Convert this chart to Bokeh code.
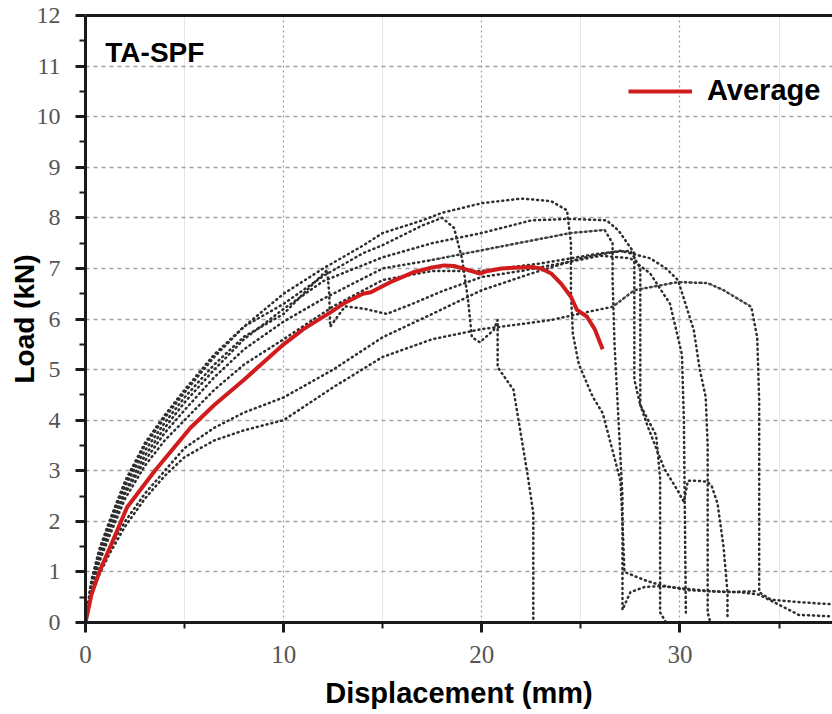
from bokeh.plotting import figure
from bokeh.models import (Range1d, FixedTicker, LinearAxis, Legend, LegendItem, Label)
from bokeh.embed import file_html
from bokeh.resources import INLINE

# ---------------- data ----------------
x_ticks = [0, 10, 20, 30]
x_minor = [5, 15, 25, 35]
y_ticks = list(range(0, 13))
y_minor = [i + 0.5 for i in range(0, 12)]

s1_x = [0, 0.3, 0.7, 1.2, 2, 3, 4, 5, 6.5, 8, 10, 12, 14, 15, 17, 18, 20, 22, 23.5, 24.3, 24.5, 24.5, 24.6, 24.9, 25.6, 26.1, 26.6, 27.0, 27.1, 27.2, 28.2, 29.0, 30.4, 32.4, 33.9]
s1_y = [0, 0.8, 1.4, 1.95, 2.75, 3.5, 4.05, 4.55, 5.25, 5.85, 6.5, 7.0, 7.45, 7.7, 7.95, 8.1, 8.29, 8.38, 8.33, 8.15, 7.5, 6.5, 5.7, 5.1, 4.46, 4.14, 3.4, 2.8, 2.0, 1.0, 0.84, 0.74, 0.64, 0.6, 0.62]

s2_x = [0, 0.3, 0.7, 1.2, 2, 3, 4, 5, 6.5, 8, 10, 12, 15, 17.5, 20, 22.5, 24.5, 26.3, 26.9, 27.7, 27.7, 27.7, 28.0, 28.8, 29.0, 29.0, 29.3]
s2_y = [0, 0.75, 1.3, 1.85, 2.6, 3.3, 3.85, 4.35, 5.0, 5.6, 6.2, 6.75, 7.22, 7.5, 7.7, 7.95, 7.98, 7.95, 7.75, 7.3, 6.2, 4.8, 4.3, 3.7, 2.85, 0.2, 0.0]

s3_x = [0, 0.3, 0.7, 1.2, 2, 3, 4, 5, 6.5, 8, 10, 12, 15, 17.4, 20, 22.5, 24.5, 26.2, 26.6, 26.6, 26.7, 26.9, 27.1, 27.1, 27.1, 27.5, 28.2, 29, 30, 31.5, 33, 34, 35, 36, 37.7]
s3_y = [0, 0.7, 1.25, 1.8, 2.55, 3.2, 3.75, 4.2, 4.85, 5.4, 5.95, 6.4, 7.0, 7.16, 7.36, 7.55, 7.7, 7.76, 7.5, 6.8, 5.5, 4.0, 2.5, 1.0, 0.25, 0.6, 0.7, 0.72, 0.68, 0.62, 0.6, 0.55, 0.35, 0.15, 0.12]
s3_dense_x = [17.4, 20, 22.5, 24.5, 26.2]
s3_dense_y = [7.16, 7.36, 7.55, 7.7, 7.76]

s4_x = [0, 0.3, 0.7, 1.2, 2, 3, 4, 5, 6.5, 8, 10, 12.5, 15, 17.5, 20, 22.5, 25, 27, 28.5, 29.3, 29.9, 30.7, 31.0, 31.3, 31.4, 31.4, 31.5]
s4_y = [0, 0.6, 1.05, 1.45, 2.0, 2.55, 3.0, 3.45, 3.85, 4.15, 4.45, 5.0, 5.64, 6.1, 6.57, 6.9, 7.2, 7.35, 7.2, 7.0, 6.77, 5.78, 5.0, 4.46, 3.5, 0.2, 0.05]

s5_x = [0, 0.3, 0.7, 1.2, 2, 3, 4, 5, 6.5, 8, 10, 12.5, 15, 17.5, 20, 22, 23.5, 25.1, 26.6, 27.7, 29.9, 31.4, 32.2, 33.6, 33.9, 34.0, 34.0, 34.6, 36.1, 37.7]
s5_y = [0, 0.55, 0.95, 1.35, 1.9, 2.45, 2.9, 3.27, 3.6, 3.8, 4.0, 4.65, 5.25, 5.6, 5.8, 5.9, 5.98, 6.12, 6.24, 6.57, 6.73, 6.71, 6.57, 6.24, 5.64, 4.4, 0.6, 0.45, 0.4, 0.36]
s5_dense_x = [26.6, 27.7, 29.9, 31.4, 32.2, 33.6]
s5_dense_y = [6.24, 6.57, 6.73, 6.71, 6.57, 6.24]

s6_x = [0, 0.3, 0.7, 1.2, 2, 3, 4, 5, 6.5, 8, 10, 11.5, 12.2, 12.3, 12.35, 13.1, 14.1, 15.2, 16.5, 18, 20, 22, 24, 26, 27.5, 28.5, 29.5, 30.1, 30.2, 30.3]
s6_y = [0, 0.8, 1.4, 1.95, 2.7, 3.4, 3.95, 4.45, 5.1, 5.65, 6.1, 6.7, 6.97, 6.5, 5.85, 6.25, 6.2, 6.1, 6.3, 6.55, 6.83, 6.95, 7.1, 7.25, 7.2, 6.9, 6.3, 5.3, 4.0, 0.2]

s7_x = [0, 0.3, 0.7, 1.2, 2, 3, 4, 5, 6.5, 8, 10, 12, 14, 15, 17, 18.0, 18.6, 19.0, 19.3, 19.5, 19.9, 20.6, 20.8, 20.8, 21.6, 22.3, 22.6, 22.6]
s7_y = [0, 0.85, 1.45, 2.0, 2.8, 3.55, 4.1, 4.6, 5.3, 5.85, 6.3, 6.85, 7.3, 7.46, 7.85, 8.0, 7.8, 7.2, 6.4, 5.64, 5.54, 5.78, 5.98, 5.05, 4.6, 2.95, 2.16, 0.05]

s8_x = [0, 0.3, 0.7, 1.2, 2, 3, 4, 5, 6.5, 8, 10, 12.5, 15, 17.5, 20, 23, 26, 27.5, 28.0, 28.0, 28.0, 28.4, 29.2, 29.9, 30.2, 30.4, 30.9, 31.4, 31.6, 31.9, 32.2, 32.4, 32.4]
s8_y = [0, 0.7, 1.2, 1.7, 2.45, 3.1, 3.6, 4.0, 4.6, 5.1, 5.6, 6.25, 6.77, 6.95, 6.95, 7.1, 7.3, 7.35, 7.0, 5.0, 4.3, 3.85, 3.05, 2.6, 2.38, 2.8, 2.8, 2.78, 2.7, 2.35, 1.5, 0.6, 0.05]

avg_x = [0, 0.3, 0.7, 1.2, 2.1, 3.5, 5.3, 6.5, 8.0, 9.0, 10, 11, 12.4, 13.0, 14.0, 14.4, 15.5, 16.6, 17.5, 18.1, 18.6, 19.2, 19.9, 20.3, 21, 22, 22.5, 23, 23.5, 24, 24.5, 24.8, 25.3, 25.7, 26.1]
avg_y = [0, 0.55, 1.0, 1.45, 2.28, 3.0, 3.85, 4.3, 4.8, 5.15, 5.5, 5.8, 6.14, 6.3, 6.5, 6.53, 6.75, 6.93, 7.02, 7.06, 7.05, 6.98, 6.9, 6.95, 7.0, 7.02, 7.03, 7.0, 6.9, 6.7, 6.44, 6.18, 6.05, 5.8, 5.4]

specimens = [(s1_x, s1_y), (s2_x, s2_y), (s3_x, s3_y), (s4_x, s4_y),
             (s5_x, s5_y), (s6_x, s6_y), (s7_x, s7_y), (s8_x, s8_y)]
dense = [(s3_dense_x, s3_dense_y), (s5_dense_x, s5_dense_y)]

title_text = "TA-SPF"
legend_text = "Average"
x_label = "Displacement (mm)"
y_label = "Load (kN)"

# ---------------- figure ----------------
p = figure(width=832, height=714, output_backend="svg", toolbar_location=None,
           x_range=Range1d(0, 37.7), y_range=Range1d(0, 12),
           min_border_left=85, min_border_right=0, min_border_top=15, min_border_bottom=92)
p.outline_line_color = None
p.background_fill_color = "white"
p.border_fill_color = "white"

tick_font = "Liberation Serif"
lab_font = "Liberation Sans"

p.xaxis.ticker = FixedTicker(ticks=x_ticks, minor_ticks=x_minor)
p.yaxis.ticker = FixedTicker(ticks=y_ticks, minor_ticks=y_minor)
for ax in (p.xaxis[0], p.yaxis[0]):
    ax.axis_line_width = 3
    ax.axis_line_color = "#1a1a1a"
    ax.major_tick_line_width = 3
    ax.minor_tick_line_width = 2
    ax.major_tick_line_color = "#1a1a1a"
    ax.minor_tick_line_color = "#1a1a1a"
    ax.major_tick_out = 10
    ax.major_tick_in = 0
    ax.minor_tick_out = 6
    ax.minor_tick_in = 0
    ax.major_label_text_font = tick_font
    ax.major_label_text_color = "#555555"
    ax.axis_label_text_font = lab_font
    ax.axis_label_text_font_style = "bold"
    ax.axis_label_text_color = "black"

p.xaxis.major_label_text_font_size = "25px"
p.yaxis.major_label_text_font_size = "24px"
p.xaxis.axis_label_text_font_size = "29px"
p.yaxis.axis_label_text_font_size = "28px"
p.xaxis.axis_label = x_label
p.yaxis.axis_label = y_label
p.xaxis.major_label_standoff = 13
p.yaxis.major_label_standoff = 15
p.xaxis.axis_label_standoff = 11
p.yaxis.axis_label_standoff = -6

top_axis = LinearAxis(ticker=FixedTicker(ticks=[]), major_label_text_font_size="0px",
                      axis_line_width=3, axis_line_color="#1a1a1a",
                      major_tick_line_color=None, minor_tick_line_color=None)
p.add_layout(top_axis, "above")

p.xgrid.grid_line_color = "#9a9a9a"
p.xgrid.grid_line_dash = "2 3"
p.xgrid.grid_line_width = 1.2
p.xgrid.minor_grid_line_color = "#e6e6e6"
p.xgrid.minor_grid_line_width = 1
p.ygrid.grid_line_color = "#a0a0a0"
p.ygrid.grid_line_dash = "4 4"
p.ygrid.grid_line_width = 1.5

# specimen curves (dotted)
for sx, sy in specimens:
    p.line(sx, sy, line_color="#2e2e2e", line_width=2.5, line_dash="1 4",
           line_cap="round", line_join="round")
for dx, dy in dense:
    p.line(dx, dy, line_color="#555555", line_width=1.6, line_dash="1 1")

avg_r = p.line(avg_x, avg_y, line_color="#d01c1c", line_width=4, line_join="round")

# label in plot
p.add_layout(Label(x=1.0, y=11.27, text=title_text, text_font=lab_font,
                   text_font_style="bold", text_font_size="28px", text_color="black",
                   text_baseline="alphabetic"))

legend = Legend(items=[LegendItem(label=legend_text, renderers=[avg_r])],
                location=(543, 515), padding=0, margin=0, spacing=0,
                glyph_width=64, glyph_height=30, label_standoff=15,
                label_text_font=lab_font, label_text_font_style="bold",
                label_text_font_size="29px", label_text_color="black",
                border_line_color=None, background_fill_alpha=0)
p.add_layout(legend)

open("out.html", "w").write(file_html(p, INLINE))
